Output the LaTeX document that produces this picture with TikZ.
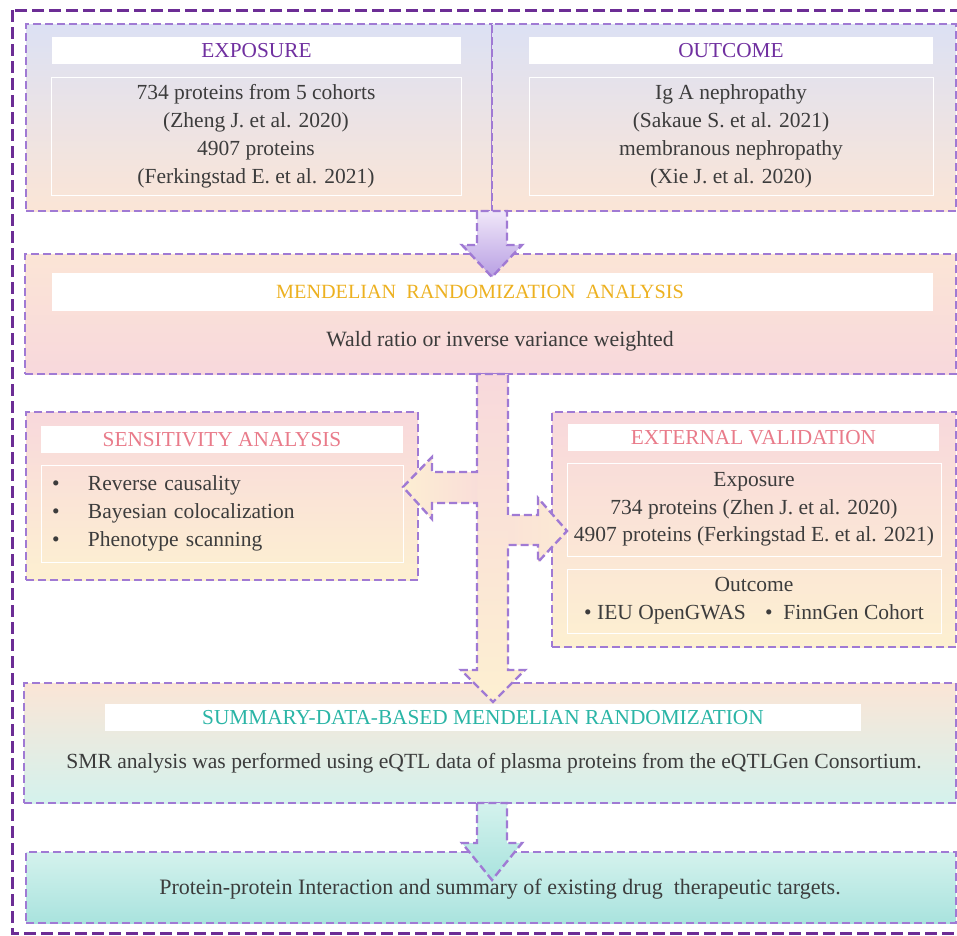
\documentclass[tikz,border=0pt]{standalone}
\usepackage{fontspec}
\setmainfont{Liberation Serif}
\usetikzlibrary{positioning}

\definecolor{edgepurple}{HTML}{A07AD4}
\definecolor{framepurple}{HTML}{6C2D95}
\definecolor{expotitle}{HTML}{7030A0}
\definecolor{mrgold}{HTML}{EDB120}
\definecolor{sensrose}{HTML}{E97B8A}
\definecolor{smrteal}{HTML}{2AB5A6}
\definecolor{bodygray}{HTML}{3C3C3C}
\definecolor{lavtop}{HTML}{DCE1F4}
\definecolor{peach}{HTML}{FBE5D6}
\definecolor{rosebot}{HTML}{F8D8DC}
\definecolor{creambot}{HTML}{FDF0D1}
\definecolor{tealpale}{HTML}{D4F2ED}
\definecolor{tealdeep}{HTML}{A9E3DE}
\definecolor{lilac}{HTML}{F0E7F9}
\definecolor{lilacdeep}{HTML}{B89FE3}

\begin{document}
\begin{tikzpicture}[x=1pt,y=-1pt,
    panel/.style={draw=edgepurple,line width=2.4pt,dash pattern=on 8pt off 4pt,
      anchor=north west,inner sep=0pt,outer sep=0pt},
    bar/.style={fill=white,inner sep=0pt},
    frame/.style={draw=white,line width=0.8pt},
    head/.style={font=\fontsize{21.3}{25}\selectfont},
    txt/.style={text=bodygray,align=center,font=\fontsize{21.5}{28}\selectfont},
    flow/.style={draw=edgepurple,line width=2.4pt,dash pattern=on 8pt off 4pt}]
  \clip (0,0) rectangle (957,935);
  \draw[framepurple,line width=3pt,dash pattern=on 12pt off 5pt] (12,10) rectangle (975,933);

  % boxes
  \node[panel,top color=lavtop,bottom color=peach,minimum width=466pt,minimum height=187pt] (expo) at (26,24) {};
  \node[panel,top color=lavtop,bottom color=peach,minimum width=464pt,minimum height=187pt] (outc) at (492,24) {};
  \node[panel,top color=peach,bottom color=rosebot,minimum width=931pt,minimum height=120pt] (mr) at (25,254) {};
  \node[panel,top color=rosebot,bottom color=creambot,minimum width=392pt,minimum height=168pt] (sens) at (26,412) {};
  \node[panel,top color=rosebot,bottom color=creambot,minimum width=404pt,minimum height=235pt] (valid) at (552,412) {};
  \node[panel,top color=peach,bottom color=tealpale,minimum width=932pt,minimum height=120pt] (smr) at (24,683) {};
  \node[panel,top color=tealpale,bottom color=tealdeep,minimum width=930pt,minimum height=71pt] (final) at (26,852) {};

  % titles
  \node[bar,head,text=expotitle,minimum width=409pt,minimum height=27pt] (expoti) at (256.5,50.5) {EXPOSURE};
  \node[bar,head,text=expotitle,minimum width=404pt,minimum height=27pt] (outcti) at (731,50.5) {OUTCOME};
  \node[bar,minimum width=881pt,minimum height=38pt] (mrbar) at (492.5,292) {};
  \node[text=mrgold,font=\fontsize{20.2}{25}\selectfont] (mrti) at (480,292) {MENDELIAN\ \ RANDOMIZATION\ \ ANALYSIS};
  \node[bar,head,text=sensrose,minimum width=362pt,minimum height=27pt] (sensti) at (222,439.5) {SENSITIVITY ANALYSIS};
  \node[bar,head,text=sensrose,minimum width=371pt,minimum height=27pt] (validti) at (753.5,437.5) {EXTERNAL VALIDATION};
  \node[bar,head,text=smrteal,minimum width=756pt,minimum height=27pt] (smrti) at (483,717.5) {SUMMARY-DATA-BASED MENDELIAN RANDOMIZATION};

  % texts
  \node[frame,txt,minimum width=410pt,minimum height=118pt] (expoin) at (256,136)
    {734 proteins from 5 cohorts\\(Zheng J. et al. 2020)\\4907 proteins\\(Ferkingstad E. et al. 2021)};
  \node[frame,txt,minimum width=404pt,minimum height=118pt] (outcin) at (731,136)
    {Ig A nephropathy\\(Sakaue S. et al. 2021)\\membranous nephropathy\\(Xie J. et al. 2020)};
  \node[txt,font=\fontsize{21.8}{28}\selectfont] (mrtxt) at (500,341) {Wald ratio or inverse variance weighted};
  \node[frame,txt,align=left,text width=340pt,minimum width=362pt,minimum height=97pt] (sensin) at (222,513.5)
    {\makebox[36pt][l]{\textbullet}Reverse causality\\
     \makebox[36pt][l]{\textbullet}Bayesian colocalization\\
     \makebox[36pt][l]{\textbullet}Phenotype scanning};
  \node[frame,txt,font=\fontsize{21.5}{27.5}\selectfont,minimum width=374pt,minimum height=93pt] (validin) at (754,509.5)
    {Exposure\\734 proteins (Zhen J. et al. 2020)\\4907 proteins (Ferkingstad E. et al. 2021)};
  \node[frame,txt,minimum width=374pt,minimum height=64pt] (validout) at (754,601)
    {Outcome\\\textbullet\ IEU OpenGWAS\hspace{0.9em}\textbullet\ \ FinnGen Cohort};
  \node[txt,font=\fontsize{21.6}{28}\selectfont] (smrtxt) at (494,763) {SMR analysis was performed using eQTL data of plasma proteins from the eQTLGen Consortium.};
  \node[txt,font=\fontsize{22}{28}\selectfont] (finaltxt) at (500,889) {Protein-protein Interaction and summary of existing drug\ \ therapeutic targets.};

  % arrows
  \path[flow,top color=lilac,bottom color=lilacdeep] (expo.south east) ++(-15,0)
    -- ++(0,34) -- ++(-15,0) -- ++(30,32) -- ++(30,-32) -- ++(-15,0) -- ++(0,-34) -- cycle;
  \path[save path=\hubpath] (mr.south -| expo.south east) ++(-15,0)
    -- ++(0,98) -- ++(-45,0) -- ++(0,-15) -- ++(-29,30) -- ++(29,32) -- ++(0,-16) -- ++(45,0)
    -- ++(0,167) -- ++(-16,0) -- ++(32,32) -- ++(32,-32) -- ++(-17,0)
    -- ++(0,-125) -- ++(30,0) -- ++(0,17) -- ++(29,-31) -- ++(-29,-33) -- ++(0,17) -- ++(-30,0)
    -- ++(0,-141) -- cycle;
  \begin{scope}
    \clip[use path=\hubpath];
    \shade[top color=rosebot,bottom color=creambot] (395,370) rectangle (575,705);
    \shade[left color=creambot,right color=rosebot!75!creambot] (395,450) rectangle (477,525);
    \shade[left color=rosebot!55!creambot,right color=peach!50!creambot] (508,490) rectangle (575,570);
  \end{scope}
  \draw[flow,use path=\hubpath];
  \path[flow,top color=tealpale,bottom color=tealdeep] (smr.south -| expo.south east) ++(-15,0)
    -- ++(0,40) -- ++(-15,0) -- ++(30,37) -- ++(30,-37) -- ++(-15,0) -- ++(0,-40) -- cycle;
\end{tikzpicture}
\end{document}
